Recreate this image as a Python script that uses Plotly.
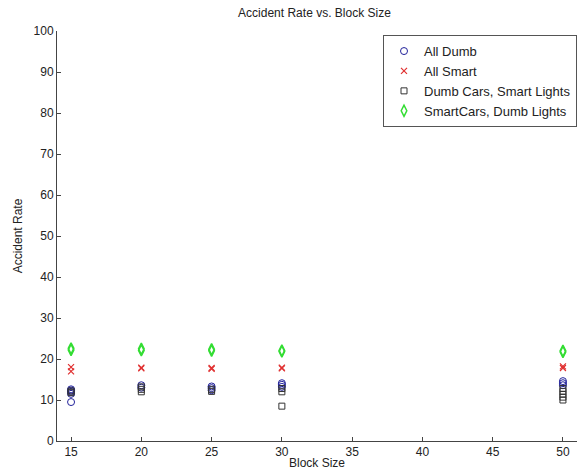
import plotly.graph_objects as go

# Block sizes tested and the accident rates measured in each trial
all_dumb_x = [15, 15, 15, 15, 15, 20, 20, 25, 25, 25, 30, 30, 30, 50, 50, 50]
all_dumb_y = [11.5, 12.0, 12.3, 12.6, 9.5, 13.0, 13.6, 12.4, 12.9, 13.3, 13.2, 13.7, 14.1, 13.6, 14.1, 14.6]

all_smart_x = [15, 15, 20, 20, 25, 25, 30, 30, 50, 50]
all_smart_y = [18.0, 17.0, 17.7, 17.9, 17.6, 17.8, 17.7, 17.9, 17.8, 18.2]

dumb_cars_x = [15, 15, 20, 20, 20, 25, 25, 30, 30, 30, 50, 50, 50, 50, 50]
dumb_cars_y = [11.8, 12.2, 12.0, 12.6, 13.2, 12.1, 12.6, 12.0, 12.8, 8.5, 10.0, 10.7, 11.4, 12.1, 12.8]

smart_cars_x = [15, 15, 20, 20, 25, 25, 30, 30, 50, 50]
smart_cars_y = [22.2, 22.6, 22.1, 22.5, 22.0, 22.4, 21.8, 22.1, 21.7, 22.0]

x_ticks = [15, 20, 25, 30, 35, 40, 45, 50]
y_ticks = [0, 10, 20, 30, 40, 50, 60, 70, 80, 90, 100]

font = dict(family="Liberation Sans, Arial, sans-serif", size=12, color="#222222")

fig = go.Figure()
fig.add_trace(go.Scatter(
    x=all_dumb_x, y=all_dumb_y, mode="markers", name="All Dumb",
    marker=dict(symbol="circle-open", size=7, color="#20209a", line=dict(width=1)),
))
fig.add_trace(go.Scatter(
    x=all_smart_x, y=all_smart_y, mode="markers", name="All Smart",
    marker=dict(symbol="x-thin-open", size=6, color="#e03030", line=dict(width=1.2)),
))
fig.add_trace(go.Scatter(
    x=dumb_cars_x, y=dumb_cars_y, mode="markers", name="Dumb Cars, Smart Lights",
    marker=dict(symbol="square-open", size=6, color="#333333", line=dict(width=1)),
))
fig.add_trace(go.Scatter(
    x=smart_cars_x, y=smart_cars_y, mode="markers", name="SmartCars, Dumb Lights",
    marker=dict(symbol="diamond-tall-open", size=8, color="#33dd33", line=dict(width=1.5)),
))

fig.update_layout(
    width=577, height=472,
    margin=dict(l=57, r=0, t=31, b=31),
    paper_bgcolor="white", plot_bgcolor="white",
    font=font,
    title=dict(text="Accident Rate vs. Block Size", x=0.545, xanchor="center",
               y=0.972, yanchor="middle", font=dict(size=12)),
    showlegend=True,
    legend=dict(
        x=1.0, xanchor="right", y=0.99, yanchor="top",
        bgcolor="white", bordercolor="#555555", borderwidth=1,
        font=dict(size=13), tracegroupgap=0, itemwidth=30,
    ),
    xaxis=dict(
        range=[14, 51], tickvals=x_ticks, ticks="inside", ticklen=4,
        tickcolor="#444444", showline=True, linecolor="#444444", linewidth=1,
        showgrid=False, zeroline=False, mirror=False,
        title=dict(text="Block Size", standoff=0, font=dict(size=12)),
    ),
    yaxis=dict(
        range=[0, 100], tickvals=y_ticks, ticks="inside", ticklen=4,
        tickcolor="#444444", showline=True, linecolor="#444444", linewidth=1,
        showgrid=False, zeroline=False, mirror=False,
        title=dict(text="Accident Rate", standoff=8, font=dict(size=12)),
    ),
)

fig.write_html("out.html")
